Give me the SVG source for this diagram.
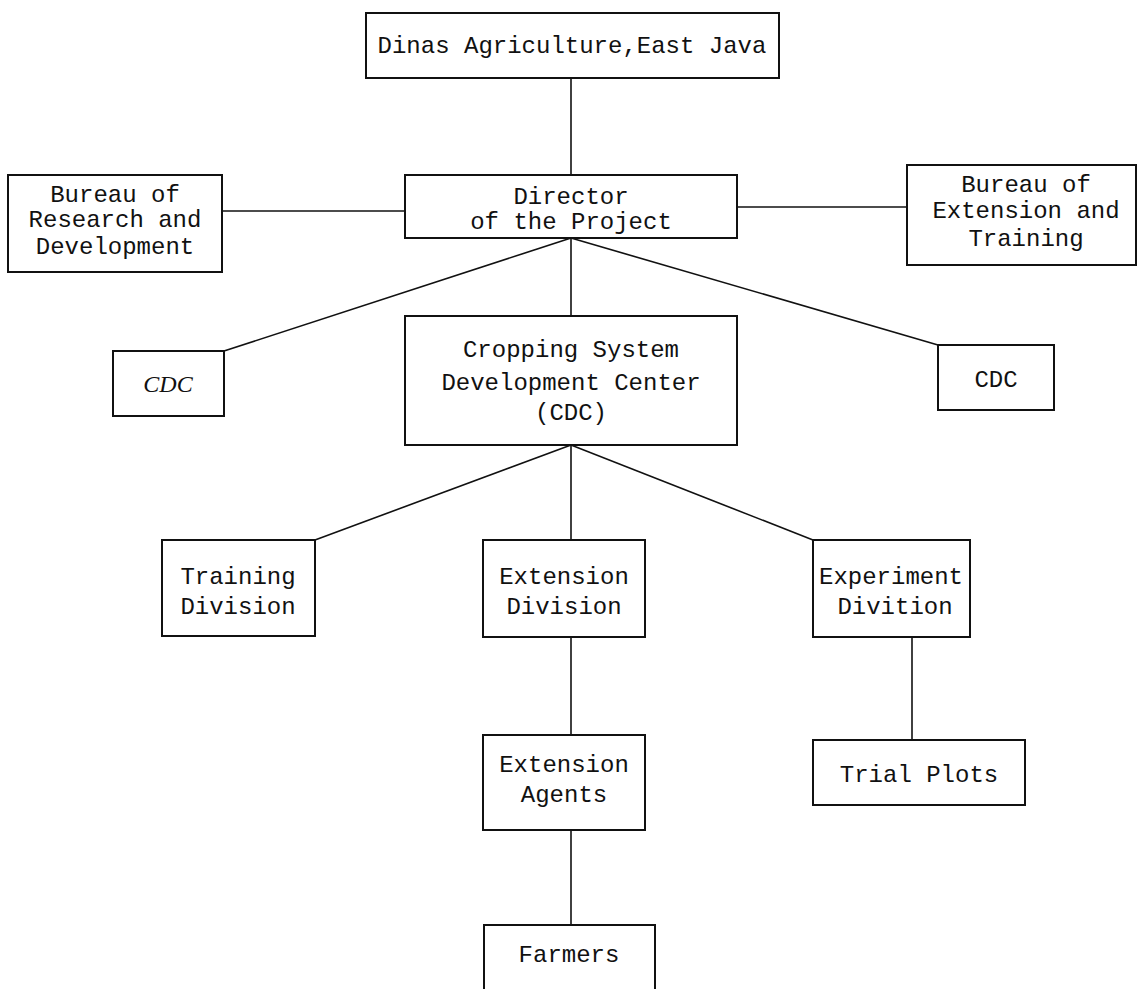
<svg xmlns="http://www.w3.org/2000/svg" width="1138" height="989" viewBox="0 0 1138 989">
<style>
.box{fill:#fff;stroke:#111;stroke-width:2}
.t{font-family:"Liberation Mono","DejaVu Sans Mono",monospace;font-size:24px;fill:#111;text-anchor:middle}
.ti{font-family:"Liberation Serif",serif;font-style:italic;font-size:24px;fill:#111;text-anchor:middle}
.c{stroke:#111;stroke-width:1.6;fill:none}
</style>
<rect width="1138" height="989" fill="#fff"/>
<g id="connectors">
<line class="c" x1="571" y1="78" x2="571" y2="175"/>
<line class="c" x1="222" y1="211" x2="405" y2="211"/>
<line class="c" x1="737" y1="207" x2="907" y2="207"/>
<line class="c" x1="571" y1="238" x2="224" y2="351"/>
<line class="c" x1="571" y1="238" x2="938" y2="345"/>
<line class="c" x1="571" y1="238" x2="571" y2="316"/>
<line class="c" x1="571" y1="445" x2="315" y2="540"/>
<line class="c" x1="571" y1="445" x2="571" y2="540"/>
<line class="c" x1="571" y1="445" x2="813" y2="540"/>
<line class="c" x1="571" y1="637" x2="571" y2="735"/>
<line class="c" x1="912" y1="637" x2="912" y2="740"/>
<line class="c" x1="571" y1="830" x2="571" y2="925"/>
</g>
<g id="dinas">
<rect class="box" x="366" y="13" width="413" height="65"/>
<text class="t" x="572" y="53">Dinas Agriculture,East Java</text>
</g>
<g id="bureau-rd">
<rect class="box" x="8" y="175" width="214" height="97"/>
<text class="t" x="115" y="202">Bureau of</text>
<text class="t" x="115" y="227">Research and</text>
<text class="t" x="115" y="254">Development</text>
</g>
<g id="director">
<rect class="box" x="405" y="175" width="332" height="63"/>
<text class="t" x="571" y="204">Director</text>
<text class="t" x="571" y="229">of the Project</text>
</g>
<g id="bureau-et">
<rect class="box" x="907" y="165" width="229" height="100"/>
<text class="t" x="1026" y="192">Bureau of</text>
<text class="t" x="1026" y="218">Extension and</text>
<text class="t" x="1026" y="246">Training</text>
</g>
<g id="cdc-left">
<rect class="box" x="113" y="351" width="111" height="65"/>
<text class="ti" x="168" y="392">CDC</text>
</g>
<g id="cdc-main">
<rect class="box" x="405" y="316" width="332" height="129"/>
<text class="t" x="571" y="357">Cropping System</text>
<text class="t" x="571" y="390">Development Center</text>
<text class="t" x="571" y="420">(CDC)</text>
</g>
<g id="cdc-right">
<rect class="box" x="938" y="345" width="116" height="65"/>
<text class="t" x="996" y="387">CDC</text>
</g>
<g id="training-division">
<rect class="box" x="162" y="540" width="153" height="96"/>
<text class="t" x="238" y="584">Training</text>
<text class="t" x="238" y="614">Division</text>
</g>
<g id="extension-division">
<rect class="box" x="483" y="540" width="162" height="97"/>
<text class="t" x="564" y="584">Extension</text>
<text class="t" x="564" y="614">Division</text>
</g>
<g id="experiment-division">
<rect class="box" x="813" y="540" width="157" height="97"/>
<text class="t" x="891" y="584">Experiment</text>
<text class="t" x="895" y="614">Divition</text>
</g>
<g id="extension-agents">
<rect class="box" x="483" y="735" width="162" height="95"/>
<text class="t" x="564" y="772">Extension</text>
<text class="t" x="564" y="802">Agents</text>
</g>
<g id="trial-plots">
<rect class="box" x="813" y="740" width="212" height="65"/>
<text class="t" x="919" y="782">Trial Plots</text>
</g>
<g id="farmers">
<rect class="box" x="484" y="925" width="171" height="70"/>
<text class="t" x="569" y="962">Farmers</text>
</g>
</svg>
